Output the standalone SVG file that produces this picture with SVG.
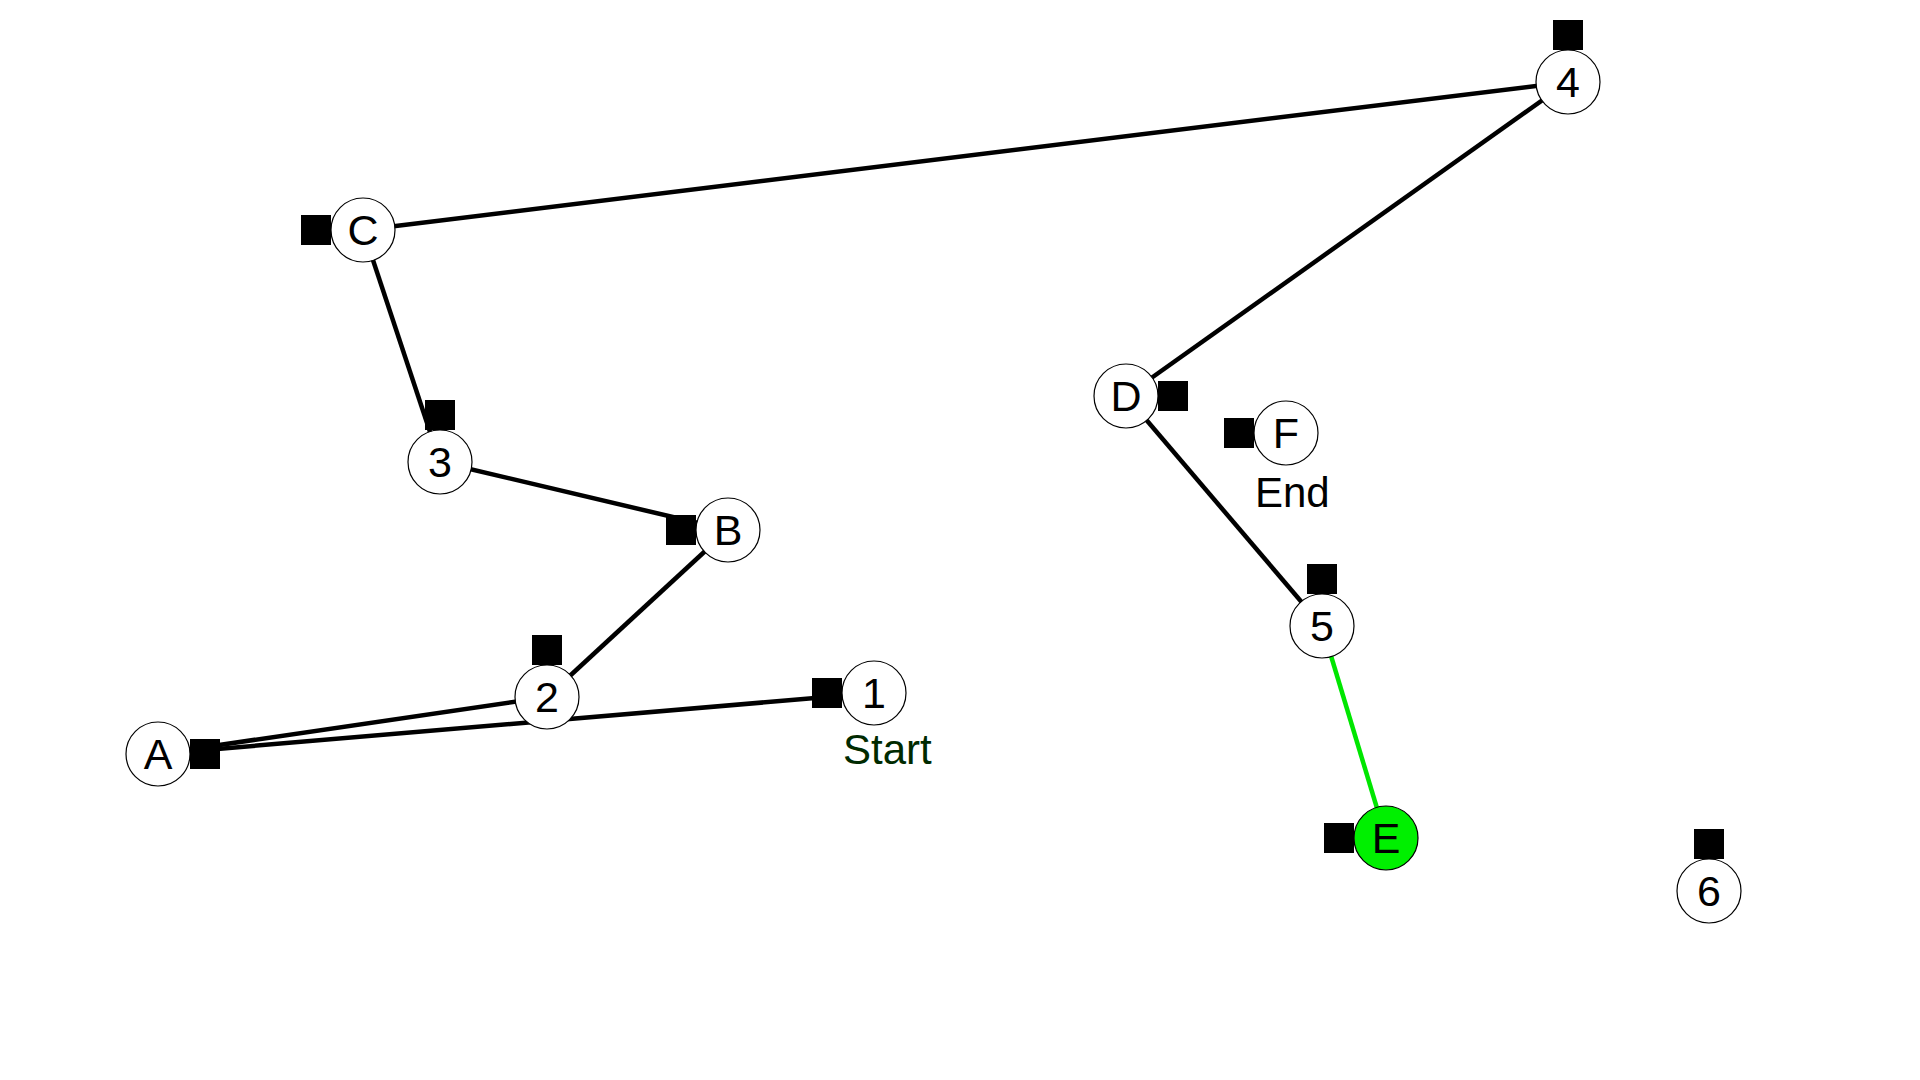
<svg xmlns="http://www.w3.org/2000/svg" width="1920" height="1080" viewBox="0 0 1920 1080">
<style>
.edge{stroke:#000;stroke-width:4.5;fill:none}
.hot{stroke:#00e600;stroke-width:4.5;fill:none}
.node circle{fill:#fff;stroke:#000;stroke-width:1.2}
.node.green circle{fill:#00f000}
.node rect{fill:#000}
.node text{font-family:"Liberation Sans",Arial,sans-serif;font-size:43px;text-anchor:middle;fill:#000}
.node text.lbl{font-size:42px;text-anchor:start}
.node text.start{fill:#002a00}
</style>
<rect width="1920" height="1080" fill="#fff"/>
<g id="connectors">
<line class="edge" x1="874" y1="693" x2="158" y2="754"/>
<line class="edge" x1="158" y1="754" x2="547" y2="697"/>
<line class="edge" x1="547" y1="697" x2="728" y2="530"/>
<line class="edge" x1="728" y1="530" x2="440" y2="462"/>
<line class="edge" x1="440" y1="462" x2="363" y2="230"/>
<line class="edge" x1="363" y1="230" x2="1568" y2="82"/>
<line class="edge" x1="1568" y1="82" x2="1126" y2="396"/>
<line class="edge" x1="1126" y1="396" x2="1322" y2="626"/>
<line class="hot" x1="1322" y1="626" x2="1386" y2="838"/>
</g>
<g id="node-1" class="node"><circle cx="874" cy="693" r="32"/><rect x="812" y="678" width="30" height="30"/><text x="874" y="708">1</text><text class="lbl start" x="843" y="764">Start</text></g>
<g id="node-A" class="node"><circle cx="158" cy="754" r="32"/><rect x="190" y="739" width="30" height="30"/><text x="158" y="769">A</text></g>
<g id="node-2" class="node"><circle cx="547" cy="697" r="32"/><rect x="532" y="635" width="30" height="30"/><text x="547" y="712">2</text></g>
<g id="node-B" class="node"><circle cx="728" cy="530" r="32"/><rect x="666" y="515" width="30" height="30"/><text x="728" y="545">B</text></g>
<g id="node-3" class="node"><circle cx="440" cy="462" r="32"/><rect x="425" y="400" width="30" height="30"/><text x="440" y="477">3</text></g>
<g id="node-C" class="node"><circle cx="363" cy="230" r="32"/><rect x="301" y="215" width="30" height="30"/><text x="363" y="245">C</text></g>
<g id="node-4" class="node"><circle cx="1568" cy="82" r="32"/><rect x="1553" y="20" width="30" height="30"/><text x="1568" y="97">4</text></g>
<g id="node-D" class="node"><circle cx="1126" cy="396" r="32"/><rect x="1158" y="381" width="30" height="30"/><text x="1126" y="411">D</text></g>
<g id="node-F" class="node"><circle cx="1286" cy="433" r="32"/><rect x="1224" y="418" width="30" height="30"/><text x="1286" y="448">F</text><text class="lbl" x="1255" y="507">End</text></g>
<g id="node-5" class="node"><circle cx="1322" cy="626" r="32"/><rect x="1307" y="564" width="30" height="30"/><text x="1322" y="641">5</text></g>
<g id="node-E" class="node green"><circle cx="1386" cy="838" r="32"/><rect x="1324" y="823" width="30" height="30"/><text x="1386" y="853">E</text></g>
<g id="node-6" class="node"><circle cx="1709" cy="891" r="32"/><rect x="1694" y="829" width="30" height="30"/><text x="1709" y="906">6</text></g>
</svg>
